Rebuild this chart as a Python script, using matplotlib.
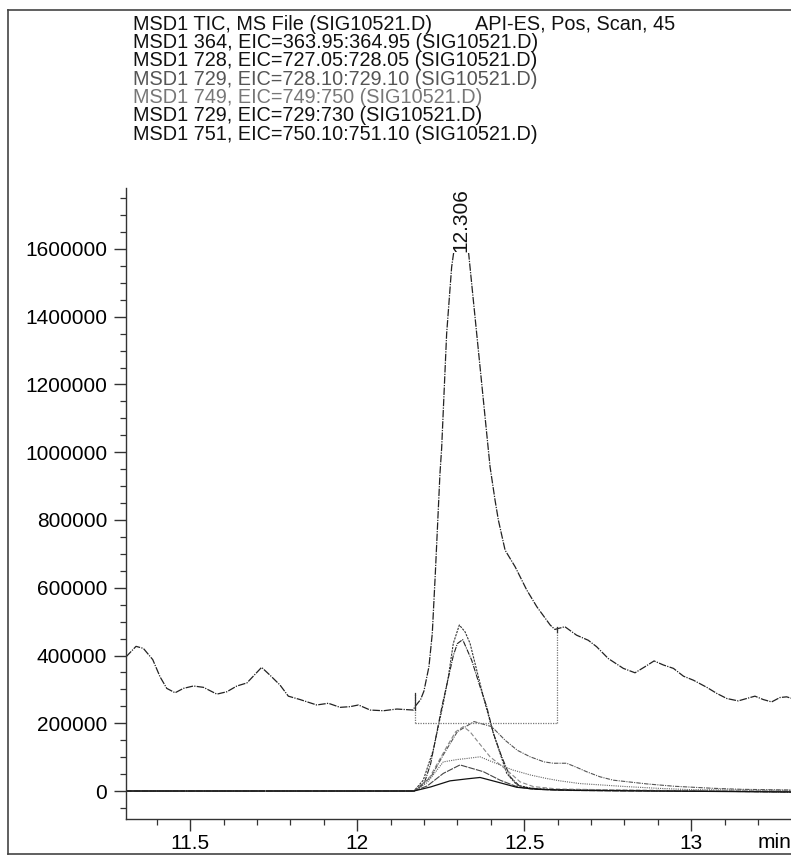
import matplotlib
matplotlib.use('Agg')
import matplotlib.pyplot as plt
import matplotlib.ticker as mticker
from matplotlib.lines import Line2D

plt.rcParams['font.family'] = ['Liberation Sans', 'DejaVu Sans']

# header lines
header = ['MSD1 TIC, MS File (SIG10521.D)',
          'MSD1 364, EIC=363.95:364.95 (SIG10521.D)',
          'MSD1 728, EIC=727.05:728.05 (SIG10521.D)',
          'MSD1 729, EIC=728.10:729.10 (SIG10521.D)',
          'MSD1 749, EIC=749:750 (SIG10521.D)',
          'MSD1 729, EIC=729:730 (SIG10521.D)',
          'MSD1 751, EIC=750.10:751.10 (SIG10521.D)']
header_tail = 'API-ES, Pos, Scan, 45'
header_colors = ['#111111', '#111111', '#111111', '#555555', '#777777', '#111111', '#111111']

# TIC
tic_t = [11.308, 11.338, 11.36, 11.388, 11.41, 11.43, 11.455, 11.48, 11.51, 11.54,
         11.58, 11.61, 11.64, 11.67, 11.714, 11.739, 11.769, 11.794, 11.829, 11.879,
         11.914, 11.949, 11.979, 12.004, 12.039, 12.079, 12.119, 12.168, 12.173, 12.19,
         12.20, 12.215, 12.225, 12.234, 12.248, 12.253, 12.268, 12.283, 12.29, 12.31,
         12.333, 12.348, 12.368, 12.388, 12.398, 12.413, 12.423, 12.443, 12.473, 12.508,
         12.538, 12.578, 12.592, 12.622, 12.657, 12.692, 12.717, 12.752, 12.797, 12.832,
         12.862, 12.889, 12.917, 12.947, 12.977, 13.007, 13.047, 13.077, 13.107, 13.141,
         13.166, 13.191, 13.216, 13.241, 13.266, 13.286, 13.299]
tic_v = [396000, 427000, 421000, 388000, 337000, 303000, 290000, 303000, 310000, 306000,
         286000, 293000, 310000, 319000, 365000, 342000, 313000, 280000, 270000, 254000,
         259000, 247000, 249000, 254000, 239000, 237000, 242000, 239000, 249000, 270000,
         295000, 367000, 465000, 640000, 937000, 1011000, 1350000, 1547000, 1596000, 1640000,
         1596000, 1448000, 1252000, 1055000, 957000, 858000, 799000, 711000, 662000, 593000,
         544000, 490000, 477000, 485000, 460000, 445000, 426000, 391000, 362000, 349000,
         367000, 384000, 372000, 362000, 339000, 327000, 306000, 288000, 273000, 266000,
         273000, 280000, 270000, 263000, 276000, 278000, 274000]

peak_rt = 12.306
peak_label = '12.306'
# integration baseline events
int_start = 12.173
int_end = 12.597
int_base = 200000
int_start_top = 289000
int_end_top = 485000

# EIC traces
eic_a_t = [11.308, 12.17, 12.198, 12.228, 12.258, 12.273, 12.288, 12.306, 12.323, 12.338,
           12.363, 12.383, 12.408, 12.428, 12.448, 12.478, 12.52, 12.6, 12.8, 13.0, 13.3]
eic_a_v = [0, 0, 32000, 121000, 259000, 337000, 436000, 490000, 470000, 436000,
           337000, 259000, 170000, 111000, 52000, 18000, 8000, 4000, 2000, 0, -2000]
eic_b_t = [11.308, 12.17, 12.20, 12.22, 12.24, 12.255, 12.27, 12.288, 12.30, 12.316,
           12.343, 12.368, 12.388, 12.408, 12.433, 12.458, 12.488, 12.55, 12.7, 13.0, 13.3]
eic_b_v = [0, 0, 20000, 80000, 180000, 255000, 320000, 400000, 435000, 447000,
           386000, 308000, 249000, 170000, 101000, 42000, 13000, 5000, 2000, 0, -3000]
eic_d_t = [11.308, 12.17, 12.218, 12.268, 12.295, 12.318, 12.338, 12.358, 12.398, 12.448,
           12.488, 12.528, 12.6, 12.8, 13.0, 13.3]
eic_d_v = [0, 0, 42000, 130000, 175000, 190000, 175000, 150000, 101000, 62000,
           27000, 13000, 6000, 3000, 1000, 0]
eic_h_t = [11.308, 12.17, 12.22, 12.26, 12.30, 12.35, 12.403, 12.443, 12.48, 12.518,
           12.56, 12.587, 12.627, 12.657, 12.687, 12.727, 12.767, 12.867, 12.95, 13.066,
           13.15, 13.3]
eic_h_v = [0, 0, 40000, 110000, 175000, 205000, 190000, 150000, 120000, 101000,
           86000, 82000, 82000, 70000, 57000, 42000, 32000, 21000, 14000, 8000,
           5000, 3000]
eic_e_t = [11.308, 12.17, 12.21, 12.258, 12.30, 12.328, 12.368, 12.40, 12.466, 12.52,
           12.567, 12.607, 12.667, 12.807, 12.9, 13.0, 13.3]
eic_e_v = [0, 0, 25000, 86000, 93000, 96000, 101000, 88000, 62000, 47000,
           37000, 30000, 22000, 13000, 8000, 4000, 2000]
eic_f_t = [11.308, 12.17, 12.21, 12.258, 12.308, 12.378, 12.428, 12.478, 12.52, 12.6,
           12.8, 13.3]
eic_f_v = [0, 0, 15000, 52000, 77000, 57000, 32000, 13000, 6000, 2000, 0, -2000]
eic_g_t = [11.308, 12.17, 12.22, 12.278, 12.33, 12.368, 12.418, 12.478, 12.54, 12.65,
           12.9, 13.3]
eic_g_v = [0, 0, 12000, 30000, 36000, 40000, 27000, 11000, 5000, 2000, 0, -3000]

W, H = 791, 857
fig = plt.figure(figsize=(W / 100, H / 100), dpi=100)
ax = fig.add_axes([126 / W, 1 - 819 / H, 1 - 126 / W, (819 - 188) / H])

ax.plot(tic_t, tic_v, color='#222222', lw=0.9, ls=(0, (6, 1, 1, 1)))
ax.plot(eic_a_t, eic_a_v, color='#333333', lw=0.8, ls=(0, (2, 1)))
ax.plot(eic_b_t, eic_b_v, color='#222222', lw=0.8, ls=(0, (5, 1, 1, 1)))
ax.plot(eic_d_t, eic_d_v, color='#888888', lw=0.8, ls=(0, (4, 2)))
ax.plot(eic_h_t, eic_h_v, color='#555555', lw=0.8, ls=(0, (4, 1, 1, 1)))
ax.plot(eic_e_t, eic_e_v, color='#666666', lw=0.8, ls=(0, (1, 1)))
ax.plot(eic_f_t, eic_f_v, color='#444444', lw=0.8, ls=(0, (6, 1)))
ax.plot(eic_g_t, eic_g_v, color='#111111', lw=0.9)

# integration baseline box
box_kw = dict(color='#777777', lw=0.9, ls=(0, (1, 1)))
ax.plot([int_start, int_end], [int_base, int_base], **box_kw)
ax.plot([int_start, int_start], [int_base, int_start_top], **box_kw)
ax.plot([int_end, int_end], [int_base, int_end_top], **box_kw)
ax.plot([int_start, int_start], [240000, int_start_top], color='#333333', lw=0.9)
ax.plot([int_end, int_end], [470000, int_end_top], color='#333333', lw=0.9)

ax.text(peak_rt + 0.004, 1590000, peak_label, rotation=90, ha='center', va='bottom',
        fontsize=15, color='#111111',
        bbox=dict(facecolor='white', edgecolor='none', pad=0.5))

ax.set_xlim(11.308, 13.299)
ax.set_ylim(-82600, 1780000)
ax.spines['top'].set_visible(False)
ax.spines['right'].set_visible(False)
for s in ('left', 'bottom'):
    ax.spines[s].set_linewidth(1.0)
    ax.spines[s].set_color('#333333')

ax.xaxis.set_major_locator(mticker.FixedLocator([11.5, 12, 12.5, 13]))
ax.xaxis.set_major_formatter(mticker.FixedFormatter(['11.5', '12', '12.5', '13']))
ax.xaxis.set_minor_locator(mticker.MultipleLocator(0.1))
ax.yaxis.set_major_locator(mticker.MultipleLocator(200000))
ax.yaxis.set_minor_locator(mticker.MultipleLocator(50000))
ax.yaxis.set_major_formatter(mticker.FuncFormatter(lambda v, p: '%d' % v))
ax.tick_params(which='major', length=8.6, width=1.0, labelsize=15, color='#333333')
ax.tick_params(which='minor', length=4, width=0.9, color='#333333')
ax.tick_params(axis='x', which='major', pad=2)
ax.tick_params(axis='y', which='major', pad=5)

fig.text(758 / W, 1 - 843 / H, 'min', fontsize=15, ha='left', va='center')

# header text
for i, (line, c) in enumerate(zip(header, header_colors)):
    fig.text(133 / W, 1 - (29.5 + 18.35 * i) / H, line, fontsize=14.3,
             color=c, ha='left', va='baseline')
fig.text(475 / W, 1 - 29.5 / H, header_tail, fontsize=14.3, color='#111111',
         ha='left', va='baseline')

# outer frame
frame_kw = dict(color='#444444', lw=1.2, transform=fig.transFigure)
fig.add_artist(Line2D([8 / W, 8 / W], [1 - 10 / H, 1 - 854 / H], **frame_kw))
fig.add_artist(Line2D([8 / W, 1.0], [1 - 10 / H, 1 - 10 / H], **frame_kw))
fig.add_artist(Line2D([8 / W, 1.0], [1 - 854 / H, 1 - 854 / H], **frame_kw))

fig.savefig('out.png', dpi=100)
